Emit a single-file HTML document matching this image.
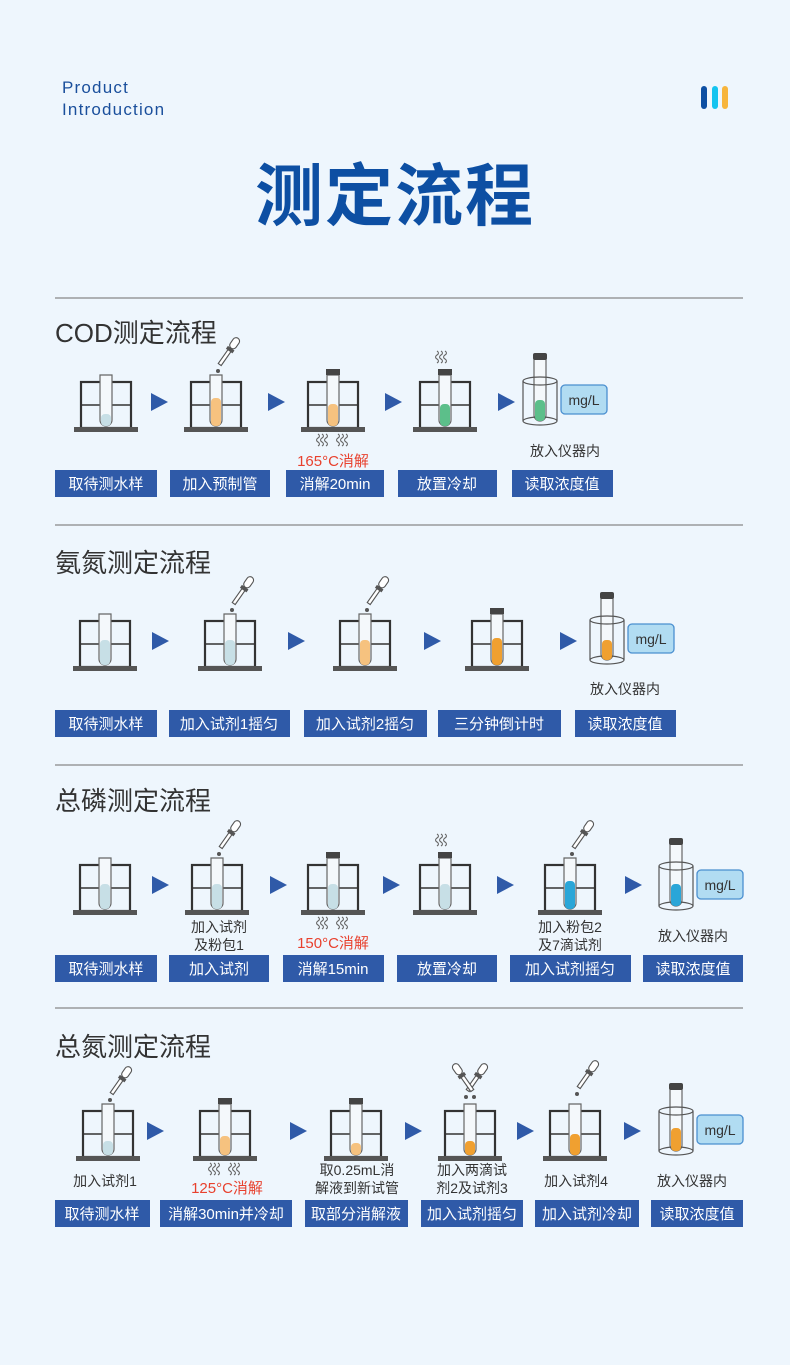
<!DOCTYPE html>
<html><head><meta charset="utf-8"><style>
html,body{margin:0;padding:0;background:#eef6fd;}
svg{display:block}
text{font-family:"Liberation Sans","Noto Sans CJK SC",sans-serif;}
.b{fill:#fff;font-size:15px;text-anchor:middle}
.l{fill:#333;font-size:14px;text-anchor:middle}
.r{fill:#e8412e;font-size:15px;text-anchor:middle}
.h{fill:#333;font-size:26px}
.btn{fill:#2f5aa8}
.arr{fill:#2f5aa8}
</style></head><body>
<svg width="790" height="1365" viewBox="0 0 790 1365" xmlns="http://www.w3.org/2000/svg">
<defs>
<g id="rack">
<rect x="-25" y="-46" width="50" height="46" fill="none" stroke="#333" stroke-width="2.2"/>
<line x1="-25" y1="-23" x2="25" y2="-23" stroke="#333" stroke-width="1.5"/>
<rect x="-32" y="-1" width="64" height="5" fill="#555"/>
<path d="M-6,-53 V-8 A6,6 0 0 0 6,-8 V-53 Z" fill="#f4f8fb" stroke="#666" stroke-width="1.2"/>
</g>
<rect id="cap" x="-7" y="-59" width="14" height="6" fill="#444"/>
<g id="drop">
<g transform="rotate(35)">
<rect x="-1.8" y="-20" width="3.6" height="17" fill="#fff" stroke="#555" stroke-width="1.1"/>
<rect x="-4" y="-23" width="8" height="3.5" fill="#555"/>
<rect x="-3.5" y="-35" width="7" height="12" rx="3.5" fill="#fff" stroke="#555" stroke-width="1.1"/>
</g>
<circle cx="0" cy="4" r="2" fill="#555"/>
</g>
<g id="steam" fill="none" stroke="#666" stroke-width="1.1">
<path d="M0,0 q3,-2 0,-4 q-3,-2 0,-4 q3,-2 0,-4"/>
<path d="M4,0 q3,-2 0,-4 q-3,-2 0,-4 q3,-2 0,-4"/>
<path d="M8,0 q3,-2 0,-4 q-3,-2 0,-4 q3,-2 0,-4"/>
</g>
<g id="inst">
<path d="M-17,-44 V-4 M17,-44 V-4" stroke="#555" stroke-width="1.2"/>
<path d="M-6,-66 V-10 A6,6 0 0 0 6,-10 V-66 Z" fill="#f4f8fb" stroke="#666" stroke-width="1.2"/>
<rect x="-7" y="-72" width="14" height="7" rx="2" fill="#444"/>
<ellipse cx="0" cy="-44" rx="17" ry="4" fill="none" stroke="#555" stroke-width="1.2"/>
<ellipse cx="0" cy="-4" rx="17" ry="4" fill="none" stroke="#555" stroke-width="1.2"/>
<rect x="21" y="-40" width="46" height="29" rx="4" fill="#b1dcf2" stroke="#4a8fd0" stroke-width="1.3"/>
<text x="44" y="-20" font-size="14" fill="#333" text-anchor="middle">mg/L</text>
</g>
<path id="ar" d="M0,-9 L17,0 L0,9 Z" class="arr"/>
</defs>

<text x="62" y="93" font-size="17" fill="#1a4f9c" letter-spacing="1.2">Product</text>
<text x="62" y="115" font-size="17" fill="#1a4f9c" letter-spacing="1.2">Introduction</text>
<rect x="701" y="86" width="6" height="23" rx="3" fill="#0d4fa3"/>
<rect x="712" y="86" width="6" height="23" rx="3" fill="#14c4f0"/>
<rect x="722" y="86" width="6" height="23" rx="3" fill="#f7b53c"/>
<text x="395" y="220" font-size="68" font-weight="bold" fill="#0d4fa3" text-anchor="middle" letter-spacing="2">测定流程</text>

<g stroke="#888" stroke-width="1.2">
<line x1="55" y1="298" x2="743" y2="298"/><line x1="55" y1="525" x2="743" y2="525"/>
<line x1="55" y1="765" x2="743" y2="765"/><line x1="55" y1="1008" x2="743" y2="1008"/>
</g>

<!-- COD -->
<text x="55" y="342" class="h">COD测定流程</text>
<use href="#rack" x="106" y="428"/><rect x="101" y="414" width="10" height="12" rx="4" fill="#c7dfe6"/>
<use href="#rack" x="216" y="428"/><rect x="211" y="398" width="10" height="28" rx="4" fill="#f6c27f"/><use href="#drop" x="218" y="367"/>
<use href="#rack" x="333" y="428"/><use href="#cap" x="333" y="428"/><rect x="328" y="404" width="10" height="22" rx="4" fill="#f6c27f"/>
<use href="#steam" x="318" y="446"/><use href="#steam" x="338" y="446"/>
<use href="#rack" x="445" y="428"/><use href="#cap" x="445" y="428"/><rect x="440" y="404" width="10" height="22" rx="4" fill="#5cbf8a"/>
<use href="#steam" x="437" y="363"/>
<use href="#inst" x="540" y="425"/><rect x="535" y="400" width="10" height="21" rx="4" fill="#5cbf8a"/>
<use href="#ar" x="151" y="402"/><use href="#ar" x="268" y="402"/><use href="#ar" x="385" y="402"/><use href="#ar" x="498" y="402"/>
<text x="333" y="466" class="r">165°C消解</text>
<text x="565" y="456" class="l">放入仪器内</text>
<rect x="55" y="470" width="102" height="27" class="btn"/><text x="106" y="489" class="b">取待测水样</text>
<rect x="170" y="470" width="100" height="27" class="btn"/><text x="220" y="489" class="b">加入预制管</text>
<rect x="286" y="470" width="98" height="27" class="btn"/><text x="335" y="489" class="b">消解20min</text>
<rect x="398" y="470" width="99" height="27" class="btn"/><text x="447" y="489" class="b">放置冷却</text>
<rect x="512" y="470" width="101" height="27" class="btn"/><text x="562" y="489" class="b">读取浓度值</text>

<!-- Ammonia -->
<text x="55" y="572" class="h">氨氮测定流程</text>
<use href="#rack" x="105" y="667"/><rect x="100" y="640" width="10" height="25" rx="4" fill="#c7dfe6"/>
<use href="#rack" x="230" y="667"/><rect x="225" y="640" width="10" height="25" rx="4" fill="#c7dfe6"/><use href="#drop" x="232" y="606"/>
<use href="#rack" x="365" y="667"/><rect x="360" y="640" width="10" height="25" rx="4" fill="#f6c27f"/><use href="#drop" x="367" y="606"/>
<use href="#rack" x="497" y="667"/><use href="#cap" x="497" y="667"/><rect x="492" y="638" width="10" height="27" rx="4" fill="#f0a030"/>
<use href="#inst" x="607" y="664"/><rect x="602" y="640" width="10" height="20" rx="4" fill="#f0a030"/>
<use href="#ar" x="152" y="641"/><use href="#ar" x="288" y="641"/><use href="#ar" x="424" y="641"/><use href="#ar" x="560" y="641"/>
<text x="625" y="694" class="l">放入仪器内</text>
<rect x="55" y="710" width="102" height="27" class="btn"/><text x="106" y="729" class="b">取待测水样</text>
<rect x="169" y="710" width="121" height="27" class="btn"/><text x="229" y="729" class="b">加入试剂1摇匀</text>
<rect x="304" y="710" width="123" height="27" class="btn"/><text x="365" y="729" class="b">加入试剂2摇匀</text>
<rect x="438" y="710" width="123" height="27" class="btn"/><text x="499" y="729" class="b">三分钟倒计时</text>
<rect x="575" y="710" width="101" height="27" class="btn"/><text x="625" y="729" class="b">读取浓度值</text>

<!-- Phosphorus -->
<text x="55" y="810" class="h">总磷测定流程</text>
<use href="#rack" x="105" y="911"/><rect x="100" y="884" width="10" height="25" rx="4" fill="#c7dfe6"/>
<use href="#rack" x="217" y="911"/><rect x="212" y="884" width="10" height="25" rx="4" fill="#c7dfe6"/><use href="#drop" x="219" y="850"/>
<use href="#rack" x="333" y="911"/><use href="#cap" x="333" y="911"/><rect x="328" y="884" width="10" height="25" rx="4" fill="#c7dfe6"/>
<use href="#steam" x="318" y="929"/><use href="#steam" x="338" y="929"/>
<use href="#rack" x="445" y="911"/><use href="#cap" x="445" y="911"/><rect x="440" y="884" width="10" height="25" rx="4" fill="#c7dfe6"/>
<use href="#steam" x="437" y="846"/>
<use href="#rack" x="570" y="911"/><rect x="565" y="881" width="10" height="28" rx="4" fill="#2aa6d8"/><use href="#drop" x="572" y="850"/>
<use href="#inst" x="676" y="910"/><rect x="671" y="884" width="10" height="22" rx="4" fill="#2aa6d8"/>
<use href="#ar" x="152" y="885"/><use href="#ar" x="270" y="885"/><use href="#ar" x="383" y="885"/><use href="#ar" x="497" y="885"/><use href="#ar" x="625" y="885"/>
<text x="219" y="932" class="l">加入试剂</text><text x="219" y="950" class="l">及粉包1</text>
<text x="333" y="948" class="r">150°C消解</text>
<text x="570" y="932" class="l">加入粉包2</text><text x="570" y="950" class="l">及7滴试剂</text>
<text x="693" y="941" class="l">放入仪器内</text>
<rect x="55" y="955" width="102" height="27" class="btn"/><text x="106" y="974" class="b">取待测水样</text>
<rect x="169" y="955" width="100" height="27" class="btn"/><text x="219" y="974" class="b">加入试剂</text>
<rect x="283" y="955" width="101" height="27" class="btn"/><text x="333" y="974" class="b">消解15min</text>
<rect x="397" y="955" width="100" height="27" class="btn"/><text x="447" y="974" class="b">放置冷却</text>
<rect x="510" y="955" width="121" height="27" class="btn"/><text x="570" y="974" class="b">加入试剂摇匀</text>
<rect x="643" y="955" width="100" height="27" class="btn"/><text x="693" y="974" class="b">读取浓度值</text>

<!-- Nitrogen -->
<text x="55" y="1056" class="h">总氮测定流程</text>
<use href="#rack" x="108" y="1157"/><rect x="103" y="1141" width="10" height="14" rx="4" fill="#c7dfe6"/><use href="#drop" x="110" y="1096"/>
<use href="#rack" x="225" y="1157"/><use href="#cap" x="225" y="1157"/><rect x="220" y="1136" width="10" height="19" rx="4" fill="#f6c27f"/>
<use href="#steam" x="210" y="1175"/><use href="#steam" x="230" y="1175"/>
<use href="#rack" x="356" y="1157"/><use href="#cap" x="356" y="1157"/><rect x="351" y="1143" width="10" height="12" rx="4" fill="#f6c27f"/>
<use href="#rack" x="470" y="1157"/><rect x="465" y="1141" width="10" height="14" rx="4" fill="#f0a030"/>
<use href="#drop" x="466" y="1093"/>
<g transform="translate(474,1093) scale(-1,1)"><use href="#drop"/></g>
<use href="#rack" x="575" y="1157"/><rect x="570" y="1134" width="10" height="21" rx="4" fill="#f0a030"/><use href="#drop" x="577" y="1090"/>
<use href="#inst" x="676" y="1155"/><rect x="671" y="1128" width="10" height="23" rx="4" fill="#f0a030"/>
<use href="#ar" x="147" y="1131"/><use href="#ar" x="290" y="1131"/><use href="#ar" x="405" y="1131"/><use href="#ar" x="517" y="1131"/><use href="#ar" x="624" y="1131"/>
<text x="105" y="1186" class="l">加入试剂1</text>
<text x="227" y="1193" class="r">125°C消解</text>
<text x="357" y="1175" class="l">取0.25mL消</text><text x="357" y="1193" class="l">解液到新试管</text>
<text x="472" y="1175" class="l">加入两滴试</text><text x="472" y="1193" class="l">剂2及试剂3</text>
<text x="576" y="1186" class="l">加入试剂4</text>
<text x="692" y="1186" class="l">放入仪器内</text>
<rect x="55" y="1200" width="95" height="27" class="btn"/><text x="102" y="1219" class="b">取待测水样</text>
<rect x="160" y="1200" width="132" height="27" class="btn"/><text x="226" y="1219" class="b">消解30min并冷却</text>
<rect x="305" y="1200" width="103" height="27" class="btn"/><text x="356" y="1219" class="b">取部分消解液</text>
<rect x="421" y="1200" width="102" height="27" class="btn"/><text x="472" y="1219" class="b">加入试剂摇匀</text>
<rect x="535" y="1200" width="104" height="27" class="btn"/><text x="587" y="1219" class="b">加入试剂冷却</text>
<rect x="651" y="1200" width="92" height="27" class="btn"/><text x="697" y="1219" class="b">读取浓度值</text>
</svg>
</body></html>
